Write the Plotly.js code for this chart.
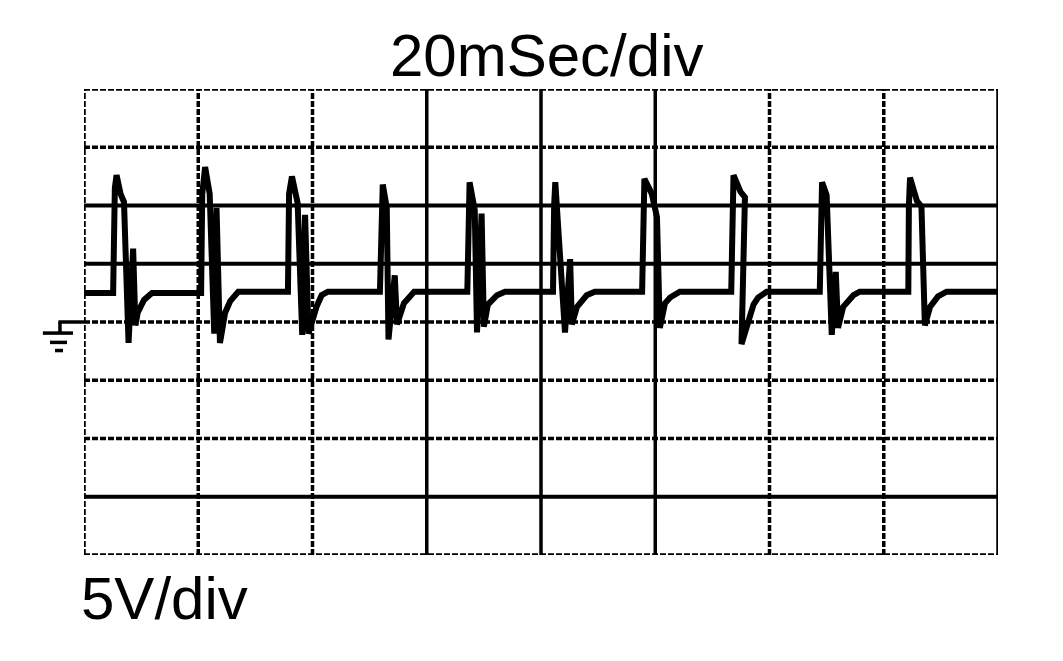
<!DOCTYPE html>
<html>
<head>
<meta charset="utf-8">
<script src="https://cdn.plot.ly/plotly-3.0.1.min.js"></script>
<style>html,body{margin:0;padding:0;background:#fff;}#chart{width:1063px;height:661px;}</style>
</head>
<body>
<div id="chart"></div>
<script>
// time in ms (20 ms/div), voltage in V (5 V/div)
const tMs = [
  0, 5.1, 5.4, 5.7, 6.4, 7.0, 7.8, 8.6, 9.0, 9.4, 10.5, 11.9,
  20.5, 20.7, 21.2, 22.0, 22.8, 23.2, 23.8, 24.7, 25.6, 27.0,
  35.7, 35.9, 36.4, 37.4, 38.2, 38.7, 39.3, 40.7, 41.6, 42.7,
  51.8, 52.0, 52.3, 53.0, 53.3, 54.4, 54.8, 56.0, 57.8,
  67.1, 67.3, 67.5, 68.4, 68.8, 69.6, 70.0, 70.7, 72.3, 73.7,
  82.1, 82.3, 82.5, 84.2, 85.1, 85.4, 86.3, 88.0, 89.4,
  97.7, 97.9, 98.1, 99.4, 100.3, 100.8, 101.7, 102.6, 104.3,
  113.3, 113.5, 113.7, 114.9, 115.7, 115.1, 117.2, 118.0, 119.5,
  128.8, 129.0, 129.2, 130.0, 130.9, 131.6, 132.0, 132.9, 134.7, 135.8,
  144.3, 144.4, 144.6, 145.8, 146.6, 147.2, 148.1, 149.5, 151.0, 160
];
const volts = [
  2.5, 2.5, 11.5, 12.6, 11.0, 10.3, -1.8, 6.3, -0.3, 0.8, 1.9, 2.5,
  2.5, 11.0, 13.3, 11.0, -1.0, 9.8, -1.8, 0.8, 1.8, 2.6,
  2.6, 11.0, 12.5, 10.2, -1.1, 9.2, -1.0, 1.3, 2.3, 2.6,
  2.6, 10.0, 11.8, 9.8, -1.5, 4.0, -0.2, 1.6, 2.6,
  2.6, 10.0, 12.0, 9.6, -0.9, 9.3, -0.4, 1.5, 2.3, 2.6,
  2.6, 10.0, 12.0, -0.9, 5.4, -0.2, 1.3, 2.3, 2.6,
  2.6, 10.0, 12.3, 11.0, 9.0, -0.5, 1.6, 2.1, 2.6,
  2.6, 11.0, 12.6, 11.2, 10.7, -1.9, 1.5, 2.1, 2.6,
  2.6, 10.0, 12.0, 10.9, -1.1, 4.3, -0.5, 1.3, 2.3, 2.6,
  2.6, 10.0, 12.4, 10.4, 9.9, -0.3, 1.3, 2.2, 2.6, 2.6
];
// graticule
const xDivs = [0, 20, 40, 60, 80, 100, 120, 140, 160];
const yDivs = [-20, -15, -10, -5, 0, 5, 10, 15, 20];
const solidX = [60, 80, 100, 160];
const solidY = [10, 5, -15];
const titleText = "20mSec/div";
const scaleText = "5V/div";

const shapes = [];
xDivs.forEach(v => {
  const solid = solidX.includes(v);
  shapes.push({type:'line', xref:'x', yref:'paper', x0:v, x1:v, y0:0, y1:1, layer:'below',
    line:{color:'#000', width: solid ? 3.5 : 3.5, dash: solid ? 'solid' : '6px,2px'}});
});
yDivs.forEach(v => {
  const solid = solidY.includes(v);
  shapes.push({type:'line', xref:'paper', yref:'y', x0:0, x1:1, y0:v, y1:v, layer:'below',
    line:{color:'#000', width: solid ? 4 : 3.5, dash: solid ? 'solid' : '6px,2px'}});
});
// ground marker at 0 V
const gnd = {color:'#000', width:3.5};
shapes.push({type:'line', xref:'paper', yref:'y', x0:-0.028, x1:0, y0:0, y1:0, line:gnd});
shapes.push({type:'line', xref:'paper', yref:'y', x0:-0.0263, x1:-0.0263, y0:0, y1:-0.95, line:gnd});
shapes.push({type:'line', xref:'paper', yref:'y', x0:-0.045, x1:-0.012, y0:-0.95, y1:-0.95, line:gnd});
shapes.push({type:'line', xref:'paper', yref:'y', x0:-0.0372, x1:-0.0186, y0:-1.75, y1:-1.75, line:gnd});
shapes.push({type:'line', xref:'paper', yref:'y', x0:-0.0317, x1:-0.023, y0:-2.45, y1:-2.45, line:gnd});

const font = {family:'"Liberation Sans", Arial, Helvetica, sans-serif', color:'#000'};

Plotly.newPlot('chart', [{
  x: tMs, y: volts, type:'scatter', mode:'lines',
  line:{color:'#000', width:6}, hoverinfo:'skip'
}], {
  width:1063, height:661,
  margin:{l:84, r:65, t:89, b:106},
  paper_bgcolor:'#fff', plot_bgcolor:'#fff',
  showlegend:false,
  xaxis:{range:[0,160], showgrid:false, zeroline:false, showticklabels:false, ticks:'', showline:false, fixedrange:true},
  yaxis:{range:[-20,20], showgrid:false, zeroline:false, showticklabels:false, ticks:'', showline:false, fixedrange:true},
  shapes: shapes,
  annotations:[
    {text:titleText, xref:'paper', yref:'paper', x:0.506, y:1, xanchor:'center', yanchor:'bottom', yshift:-2, showarrow:false,
     font:Object.assign({size:60}, font)},
    {text:scaleText, xref:'paper', yref:'paper', x:0, y:0, xanchor:'left', yanchor:'top', xshift:-5, yshift:-8, showarrow:false,
     font:Object.assign({size:60}, font)}
  ]
}, {staticPlot:true, displayModeBar:false});
</script>
</body>
</html>
